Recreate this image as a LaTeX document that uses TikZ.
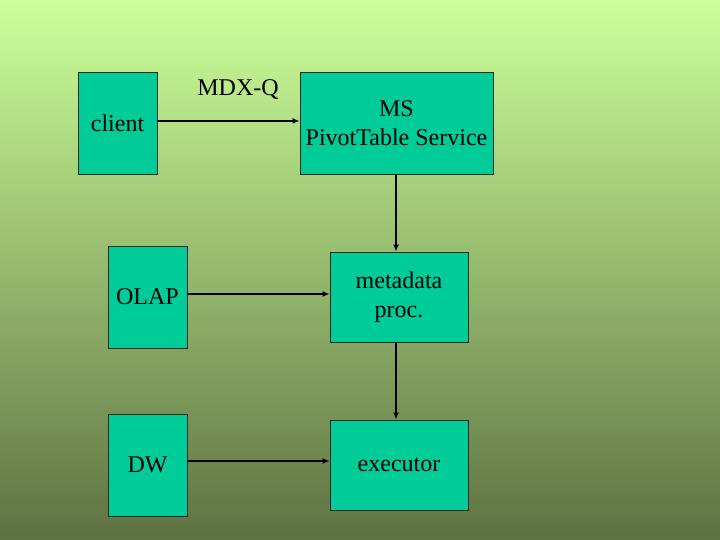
\documentclass[tikz,border=0pt]{standalone}
\usepackage{fontspec}
\setmainfont{Liberation Serif}
\usetikzlibrary{arrows.meta}
\definecolor{boxfill}{HTML}{00CC99}
\definecolor{bgtop}{HTML}{CCFF99}
\definecolor{bgbot}{HTML}{5E7242}
\begin{document}
\begin{tikzpicture}[x=1pt,y=1pt,
  box/.style={draw=black!85,line width=0.8pt,fill=boxfill,inner sep=0pt,align=center,font=\fontsize{24}{28.8}\selectfont},
  conn/.style={line width=1.6pt,-{Latex[length=7pt,width=6pt]}}]
\shade[top color=bgtop,bottom color=bgbot] (0,0) rectangle (720,540);
\useasboundingbox (0,0) rectangle (720,540);
% boxes: (x1,y1top)-(x2,y2bottom) in pixels, y flipped
\node[box,minimum width=79pt,minimum height=102pt] (client) at (117.5,417) {client};
\node[box,minimum width=193pt,minimum height=102pt] (ms) at (396.5,417) {MS\\PivotTable Service};
\node[box,minimum width=79pt,minimum height=102pt] (olap) at (147.5,243) {OLAP};
\node[box,minimum width=138pt,minimum height=90pt] (meta) at (399,243) {metadata\\proc.};
\node[box,minimum width=79pt,minimum height=102pt] (dw) at (147.5,75) {DW};
\node[box,minimum width=138pt,minimum height=90pt] (exec) at (399,75) {executor};
\node[font=\fontsize{24}{28.8}\selectfont] (mdx) at (238,450) {MDX-Q};
\draw[conn] (client.east |- 0,419) -- (ms.west |- 0,419);
\draw[conn] (olap.east |- 0,246) -- (meta.west |- 0,246);
\draw[conn] (dw.east |- 0,79) -- (exec.west |- 0,79);
\draw[conn] (ms.south -| 396,0) -- (meta.north -| 396,0);
\draw[conn] (meta.south -| 396,0) -- (exec.north -| 396,0);
\end{tikzpicture}
\end{document}
